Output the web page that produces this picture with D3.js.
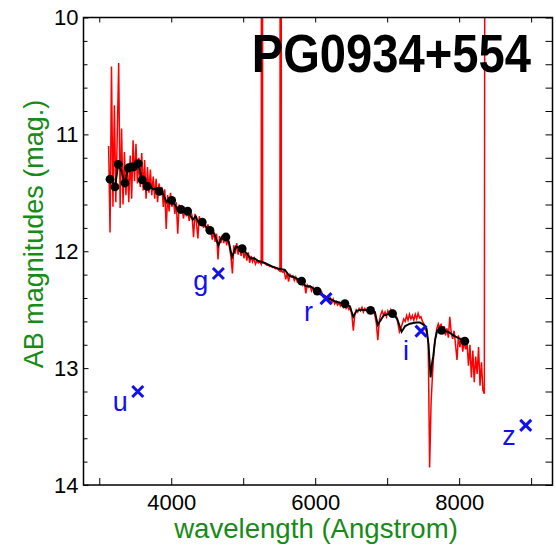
<!DOCTYPE html>
<html>
<head>
<meta charset="utf-8">
<script src="https://cdn.jsdelivr.net/npm/d3@7"></script>
<style>
  body { margin: 0; background: #fff; }
  svg { display: block; font-family: "Liberation Sans", Arial, Helvetica, sans-serif; }
</style>
</head>
<body>
<svg id="chart" width="556" height="548"></svg>
<script>
// Object name shown in the corner
const objectName = "PG0934+554";

// Observed spectrum: wavelength grid (Angstrom) and AB magnitudes
const specStart = 3130;
const specStep = 20;
const specMag = [
  // 3130
  11.10, 11.84, 10.42, 11.62, 10.75, 11.58, 11.00, 10.39, 11.63, 10.95,
  // 3330
  11.60, 11.15, 11.52, 11.25, 11.58, 11.18, 11.55, 11.05, 11.40, 11.08,
  // 3530
  11.42, 11.20, 11.45, 11.16, 11.48, 11.22, 11.55, 11.28, 11.50, 11.30,
  // 3730
  11.52, 11.36, 11.55, 11.38, 11.58, 11.42, 11.50, 11.45, 11.62, 11.47,
  // 3930
  11.81, 11.52, 11.66, 11.50, 11.62, 11.55, 11.68, 11.58, 11.85, 11.60,
  // 4130
  11.68, 11.62, 11.72, 11.63, 11.70, 11.66, 11.74, 11.65, 11.70, 11.88,
  // 4330
  11.68, 11.75, 11.89, 11.70, 11.78, 11.73, 11.80, 11.75, 11.83, 11.77,
  // 4530
  11.84, 11.82, 11.90, 11.83, 11.92, 11.85, 12.07, 11.87, 11.93, 11.86,
  // 4730
  11.93, 11.86, 11.95, 11.88, 11.97, 12.05, 12.19, 11.95, 12.02, 11.93,
  // 4930
  12.03, 11.95, 12.04, 11.97, 12.06, 12.00, 12.08, 12.01, 12.10, 12.04,
  // 5130
  12.09, 12.06, 12.11, 12.08, 12.10, 12.09, 12.11, 12.10, 12.10, 12.11,
  // 5330
  12.12, 12.12, 12.13, 12.13, 12.14, 12.14, 12.15, 12.15, 12.16, 12.17,
  // 5530
  12.17, 12.18, 12.17, 12.24, 12.19, 12.26, 12.20, 12.22, 12.21, 12.25,
  // 5730
  12.22, 12.26, 12.24, 12.27, 12.25, 12.29, 12.27, 12.36, 12.29, 12.31,
  // 5930
  12.30, 12.34, 12.31, 12.35, 12.33, 12.36, 12.34, 12.37, 12.35, 12.39,
  // 6130
  12.38, 12.41, 12.39, 12.42, 12.40, 12.44, 12.41, 12.45, 12.43, 12.46,
  // 6330
  12.44, 12.47, 12.45, 12.48, 12.45, 12.49, 12.47, 12.50, 12.48, 12.55,
  // 6530
  12.68, 12.54, 12.50, 12.52, 12.49, 12.51, 12.48, 12.52, 12.49, 12.51,
  // 6730
  12.49, 12.52, 12.50, 12.53, 12.51, 12.55, 12.62, 12.76, 12.60, 12.54,
  // 6930
  12.51, 12.55, 12.52, 12.56, 12.51, 12.54, 12.50, 12.53, 12.51, 12.55,
  // 7130
  12.56, 12.62, 12.69, 12.66, 12.62, 12.58, 12.60, 12.55, 12.59, 12.54,
  // 7330
  12.58, 12.55, 12.59, 12.54, 12.58, 12.53, 12.57, 12.56, 12.60, 12.62,
  // 7530
  12.66, 12.70, 12.78, 13.85, 13.30, 13.05, 12.85, 12.74, 12.66, 12.62,
  // 7730
  12.66, 12.62, 12.70, 12.64, 12.72, 12.66, 12.74, 12.56, 12.70, 12.75,
  // 7930
  12.68, 12.80, 12.93, 12.72, 12.82, 12.74, 12.86, 12.76, 12.84, 12.79,
  // 8130
  12.98, 12.80, 13.08, 12.85, 13.12, 12.90, 13.05, 12.82, 13.15, 12.95,
  // 8330
  13.19, 13.22
];

// Single-pixel spikes in the spectrum (off the top of the plot)
const spikeWave = [5264, 5524, 8371];
const spikeMag = [0.0, 0.0, 0.0];

// Smooth model through the spectrum
const modelWave = [
  3150, 3218, 3264, 3300, 3357, 3400, 3440, 3475, 3542, 3597, 3630, 3667, 3700,
  3750, 3800, 3833, 3880, 3935, 3970, 4006, 4050, 4100, 4135, 4180, 4228, 4300,
  4340, 4380, 4431, 4480, 4538, 4600, 4655, 4700, 4760, 4800, 4845, 4900, 4986,
  5050, 5100, 5153, 5200, 5300, 5400, 5500, 5579, 5640, 5700, 5811, 5870, 5930,
  6028, 6150, 6280, 6413, 6480, 6530, 6575, 6650, 6769, 6830, 6870, 6899, 6950,
  7000, 7075, 7140, 7200, 7250, 7316, 7400, 7455, 7510, 7547, 7575, 7603, 7625,
  7640, 7665, 7695, 7756, 7850, 7950, 8079
];
const modelMag = [
  11.38, 11.45, 11.26, 11.30, 11.42, 11.29, 11.28, 11.28, 11.25, 11.39, 11.42, 11.44, 11.44,
  11.47, 11.46, 11.49, 11.50, 11.58, 11.55, 11.56, 11.60, 11.66, 11.64, 11.65, 11.66, 11.73,
  11.70, 11.76, 11.75, 11.79, 11.82, 11.85, 11.95, 11.88, 11.88, 11.92, 12.05, 11.96, 11.98,
  12.02, 12.06, 12.06, 12.08, 12.10, 12.13, 12.15, 12.16, 12.21, 12.22, 12.255, 12.30, 12.30,
  12.34, 12.39, 12.43, 12.45, 12.47, 12.56, 12.51, 12.50, 12.506, 12.52, 12.63, 12.60, 12.55,
  12.54, 12.534, 12.58, 12.69, 12.64, 12.62, 12.61, 12.61, 12.63, 12.66, 12.80, 13.08, 12.95,
  12.90, 12.76, 12.68, 12.677, 12.69, 12.73, 12.77
];

// Model points marked with dots
const dotWave = [
  3149, 3218, 3264, 3357, 3403, 3440, 3475, 3542, 3597, 3667, 3833, 4006,
  4135, 4228, 4431, 4538, 4760, 4986, 5811, 6028, 6413, 6769, 7075, 7756, 8079
];
const dotMag = [
  11.384, 11.45, 11.256, 11.416, 11.288, 11.279, 11.279, 11.25, 11.39, 11.444, 11.487, 11.564,
  11.641, 11.656, 11.75, 11.821, 11.878, 11.978, 12.255, 12.341, 12.449, 12.506, 12.534, 12.677, 12.769
];

// Broad-band photometry
const bandNames = ["u", "g", "r", "i", "z"];
const bandWave = [3535, 4655, 6150, 7470, 8925];
const bandMag = [13.20, 12.19, 12.405, 12.683, 13.49];

// Axis ticks
const xMajorTicks = [4000, 6000, 8000];
const xMinorTicks = [3000, 5000, 7000, 9000];
const yMajorTicks = [10, 11, 12, 13, 14];
const yMinorTicks = [10.2, 10.4, 10.6, 10.8, 11.2, 11.4, 11.6, 11.8,
                     12.2, 12.4, 12.6, 12.8, 13.2, 13.4, 13.6, 13.8];

const xTitle = "wavelength (Angstrom)";
const yTitle = "AB magnitudes (mag.)";

// ---- layout ----
const svg = d3.select("#chart");
const plotLeft = 83.5, plotRight = 552.5, plotTop = 17.5, plotBottom = 485;
const green = "#178b17";
const blue = "#1010f0";

const x = d3.scaleLinear().domain([2781, 9297]).range([plotLeft, plotRight]);
const y = d3.scaleLinear().domain([10, 14]).range([plotTop, plotBottom]);

svg.append("defs").append("clipPath").attr("id", "plotClip")
  .append("rect").attr("x", plotLeft).attr("y", plotTop)
  .attr("width", plotRight - plotLeft).attr("height", plotBottom - plotTop);

const plot = svg.append("g").attr("clip-path", "url(#plotClip)");

// spectrum: regular grid plus the narrow spikes, in wavelength order
const spec = specMag.map((m, i) => [specStart + i * specStep, m])
  .concat(spikeWave.map((w, i) => [w, spikeMag[i]]))
  .sort((a, b) => a[0] - b[0]);
const line = d3.line().x(d => x(d[0])).y(d => y(d[1]));
plot.append("path").datum(spec)
  .attr("d", line)
  .attr("fill", "none").attr("stroke", "#ff0000")
  .attr("stroke-width", 1.5).attr("stroke-linejoin", "miter");

// model
const model = modelWave.map((w, i) => [w, modelMag[i]]);
plot.append("path").datum(model)
  .attr("d", line)
  .attr("fill", "none").attr("stroke", "#000")
  .attr("stroke-width", 1.9);

plot.selectAll("circle.dot").data(dotWave.map((w, i) => [w, dotMag[i]]))
  .join("circle").attr("class", "dot")
  .attr("cx", d => x(d[0])).attr("cy", d => y(d[1]))
  .attr("r", 4.4).attr("fill", "#000");

// photometry crosses and band labels
const labelOffset = { u: [-10, 19], g: [-10, 17], r: [-13, 22], i: [-12, 29], z: [-10, 20] };
const bands = bandNames.map((n, i) => ({ n, w: bandWave[i], m: bandMag[i] }));
const s = 5.5;
const crosses = svg.append("g");
bands.forEach(b => {
  const cx = x(b.w), cy = y(b.m);
  crosses.append("path")
    .attr("d", `M${cx - s},${cy - s}L${cx + s},${cy + s}M${cx - s},${cy + s}L${cx + s},${cy - s}`)
    .attr("stroke", blue).attr("stroke-width", 3).attr("fill", "none");
  crosses.append("text")
    .attr("x", cx + labelOffset[b.n][0]).attr("y", cy + labelOffset[b.n][1])
    .attr("text-anchor", "end").attr("font-size", 27).attr("fill", blue)
    .text(b.n);
});

// axes (ticks point inward)
function styleAxis(g) {
  g.select(".domain").remove();
  g.selectAll(".tick line").attr("stroke", "#000").attr("stroke-width", 1);
  g.selectAll("text").attr("fill", "#000").attr("font-size", 22)
    .attr("font-family", "Liberation Sans, Arial, sans-serif");
}
svg.append("g").attr("transform", `translate(0,${plotBottom})`)
  .call(d3.axisBottom(x).tickValues(xMajorTicks).tickSize(-7).tickPadding(9).tickFormat(d3.format("d")))
  .call(styleAxis);
svg.append("g").attr("transform", `translate(0,${plotBottom})`)
  .call(d3.axisBottom(x).tickValues(xMinorTicks).tickSize(-7).tickFormat(""))
  .call(styleAxis);
svg.append("g").attr("transform", `translate(0,${plotTop})`)
  .call(d3.axisTop(x).tickValues(xMajorTicks.concat(xMinorTicks)).tickSize(-5).tickFormat(""))
  .call(styleAxis);
svg.append("g").attr("transform", `translate(${plotLeft},0)`)
  .call(d3.axisLeft(y).tickValues(yMajorTicks).tickSize(-5).tickPadding(5).tickFormat(d3.format("d")))
  .call(styleAxis);
svg.append("g").attr("transform", `translate(${plotLeft},0)`)
  .call(d3.axisLeft(y).tickValues(yMinorTicks).tickSize(-4).tickFormat(""))
  .call(styleAxis);
svg.append("g").attr("transform", `translate(${plotRight},0)`)
  .call(d3.axisRight(y).tickValues(yMajorTicks.concat(yMinorTicks)).tickSize(-7).tickFormat(""))
  .call(styleAxis);

svg.append("rect").attr("x", plotLeft).attr("y", plotTop)
  .attr("width", plotRight - plotLeft).attr("height", plotBottom - plotTop)
  .attr("fill", "none").attr("stroke", "#000").attr("stroke-width", 1.5);

// titles
svg.append("text")
  .attr("transform", `translate(531,71.5) scale(0.89,1)`)
  .attr("text-anchor", "end").attr("font-size", 53).attr("font-weight", "bold")
  .attr("fill", "#000").text(objectName);

svg.append("text")
  .attr("x", 316).attr("y", 538)
  .attr("text-anchor", "middle").attr("font-size", 27.6).attr("fill", green)
  .text(xTitle);

svg.append("text")
  .attr("transform", "translate(43,234) rotate(-90)")
  .attr("text-anchor", "middle").attr("font-size", 27).attr("fill", green)
  .text(yTitle);
</script>
</body>
</html>
